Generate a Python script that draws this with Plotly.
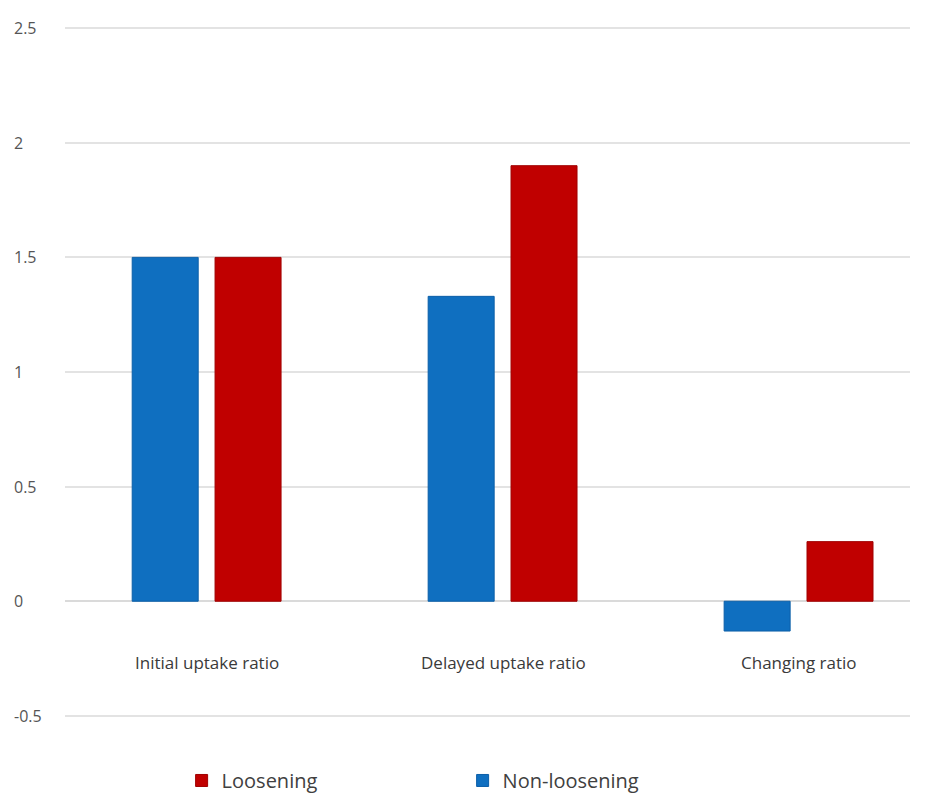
import plotly.graph_objects as go

categories = ["Initial uptake ratio", "Delayed uptake ratio", "Changing ratio"]
non_loosening = [1.50, 1.33, -0.13]
loosening = [1.50, 1.90, 0.26]
y_ticks = [-0.5, 0, 0.5, 1, 1.5, 2, 2.5]
y_tick_labels = ["-0.5", "0", "0.5", "1", "1.5", "2", "2.5"]

BLUE = "#0F6FC0"
RED = "#C00000"
xpos = list(range(len(categories)))

fig = go.Figure()
fig.add_trace(go.Bar(
    x=xpos, y=non_loosening, name="Non-loosening",
    marker=dict(color=BLUE, line=dict(color="#0B5FA8", width=1)),
    width=0.223, offset=-0.253,
))
fig.add_trace(go.Bar(
    x=xpos, y=loosening, name="Loosening",
    marker=dict(color=RED, line=dict(color="#A00000", width=1)),
    width=0.223, offset=0.027,
))

annotations = []
for i, c in enumerate(categories):
    annotations.append(dict(
        x=i, y=0, xref="x", yref="y", text=c, showarrow=False,
        yshift=-61, xanchor="center", yanchor="middle",
        font=dict(size=17, color="#3A3A3A", family="Open Sans"),
    ))
for v, t in zip(y_ticks, y_tick_labels):
    annotations.append(dict(
        x=-0.0627, y=v, xref="paper", yref="y", text=t, showarrow=False,
        xanchor="left", yanchor="middle",
        font=dict(size=16, color="#555555", family="Open Sans"),
    ))

fig.update_layout(
    width=938, height=796,
    margin=dict(l=65, r=28, t=27, b=79, autoexpand=False),
    paper_bgcolor="white", plot_bgcolor="white",
    barmode="overlay",
    showlegend=True,
    legend=dict(
        orientation="h", x=0.138, xanchor="left", y=-0.092, yanchor="middle",
        traceorder="reversed",
        font=dict(size=20, color="#404040", family="Open Sans"),
        entrywidth=236, entrywidthmode="pixels",
    ),
    annotations=annotations,
    xaxis=dict(
        range=[-0.48, 2.375], showticklabels=False, showgrid=False,
        zeroline=False, showline=False, ticks="",
    ),
    yaxis=dict(
        range=[-0.505, 2.505], tickvals=y_ticks, showticklabels=False,
        showgrid=True, gridcolor="#E3E3E3", gridwidth=1.5,
        zeroline=True, zerolinecolor="#DADADA", zerolinewidth=1.5,
        showline=False, ticks="",
    ),
)

fig.write_html("out.html")
